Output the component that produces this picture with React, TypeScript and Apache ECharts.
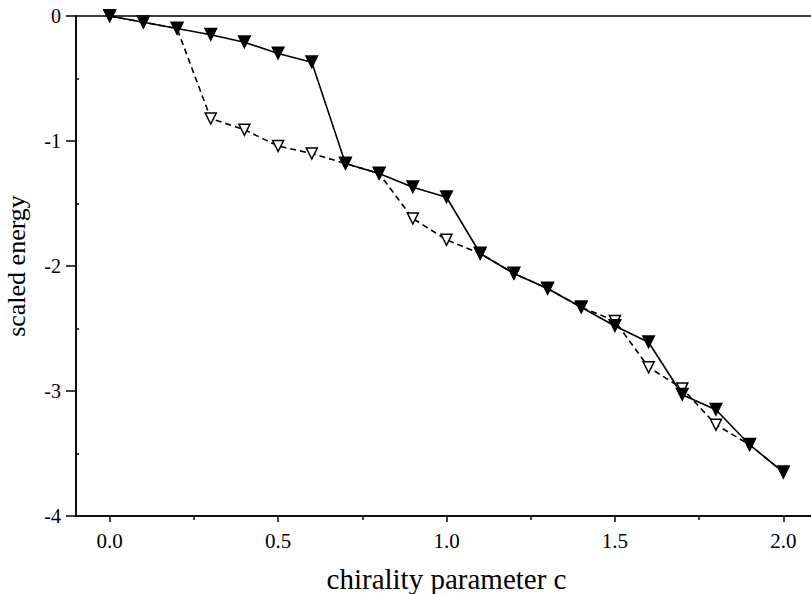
import React, { useEffect, useRef } from "react";
import * as echarts from "echarts";

const xValues = [0.0, 0.1, 0.2, 0.3, 0.4, 0.5, 0.6, 0.7, 0.8, 0.9, 1.0, 1.1, 1.2, 1.3, 1.4, 1.5, 1.6, 1.7, 1.8, 1.9, 2.0];
const solidEnergy = [0, -0.05, -0.1, -0.15, -0.21, -0.3, -0.37, -1.18, -1.26, -1.37, -1.45, -1.9, -2.06, -2.18, -2.33, -2.48, -2.61, -3.03, -3.15, -3.43, -3.65];
const dashedEnergy = [0, -0.05, -0.1, -0.82, -0.91, -1.04, -1.1, -1.18, -1.26, -1.62, -1.79, -1.9, -2.06, -2.18, -2.33, -2.44, -2.81, -2.98, -3.27, -3.43, -3.65];
const xMajorTicks = [0, 0.5, 1.0, 1.5, 2.0];
const xMinorTicks = [0.25, 0.75, 1.25, 1.75];
const yMinorTicks = [-3.5, -2.5, -1.5, -0.5];

const FONT = "Liberation Serif, Times New Roman, serif";

export default function App() {
  const ref = useRef<HTMLDivElement>(null);
  useEffect(() => {
    if (!ref.current) return;
    const chart = echarts.init(ref.current, undefined, { renderer: "svg" });
    const axisStyle = { color: "#000", width: 1.5 };
    chart.setOption({
      animation: false,
      backgroundColor: "#fff",
      textStyle: { fontFamily: FONT },
      grid: {
        left: 76,
        top: 16,
        right: -6,
        bottom: 78,
        containLabel: false,
        outerBoundsMode: "none",
        show: true,
        borderColor: "#000",
        borderWidth: 1.5,
        backgroundColor: "transparent",
      },
      xAxis: [
        {
          type: "value",
          min: -0.1,
          max: 2.1,
          position: "bottom",
          axisLine: { show: true, onZero: false, lineStyle: axisStyle },
          axisTick: { show: true, customValues: xMajorTicks, length: 6, lineStyle: axisStyle },
          axisLabel: {
            show: true,
            customValues: xMajorTicks,
            formatter: (v: number) => v.toFixed(1),
            fontFamily: FONT,
            fontSize: 21,
            color: "#000",
            margin: 14,
          },
          splitLine: { show: false },
          name: "chirality parameter c",
          nameLocation: "middle",
          nameGap: 48,
          nameTextStyle: { fontFamily: FONT, fontSize: 29, color: "#000" },
        },
        {
          type: "value",
          min: -0.1,
          max: 2.1,
          position: "bottom",
          axisLine: { show: false, onZero: false },
          axisTick: { show: true, customValues: xMinorTicks, length: 4, lineStyle: axisStyle },
          axisLabel: { show: false },
          splitLine: { show: false },
        },
      ],
      yAxis: [
        {
          type: "value",
          min: -4,
          max: 0,
          interval: 1,
          position: "left",
          axisLine: { show: true, onZero: false, lineStyle: axisStyle },
          axisTick: { show: true, length: 10, lineStyle: axisStyle },
          axisLabel: {
            fontFamily: FONT,
            fontSize: 20,
            color: "#000",
            margin: 15,
          },
          splitLine: { show: false },
          name: "scaled energy",
          nameLocation: "middle",
          nameGap: 47,
          nameTextStyle: { fontFamily: FONT, fontSize: 26, color: "#000" },
        },
        {
          type: "value",
          min: -4,
          max: 0,
          position: "left",
          axisLine: { show: false, onZero: false },
          axisTick: { show: true, inside: true, customValues: yMinorTicks, length: 3, lineStyle: axisStyle },
          axisLabel: { show: false },
          splitLine: { show: false },
        },
      ],
      series: [
        {
          type: "line",
          xAxisIndex: 0,
          yAxisIndex: 0,
          data: xValues.map((x, i) => [x, dashedEnergy[i]]),
          symbol: "triangle",
          symbolRotate: 180,
          symbolSize: 11,
          showAllSymbol: true,
          lineStyle: { color: "#000", width: 1.6, type: [6, 4] },
          itemStyle: { color: "#fff", borderColor: "#000", borderWidth: 1.5 },
          z: 2,
        },
        {
          type: "line",
          xAxisIndex: 0,
          yAxisIndex: 0,
          data: xValues.map((x, i) => [x, solidEnergy[i]]),
          symbol: "triangle",
          symbolRotate: 180,
          symbolSize: 14,
          showAllSymbol: true,
          lineStyle: { color: "#000", width: 1.6, type: "solid" },
          itemStyle: { color: "#000", borderColor: "#000", borderWidth: 0 },
          z: 3,
        },
      ],
    });
    return () => chart.dispose();
  }, []);
  return (
    <div
      ref={ref}
      style={{ position: "absolute", left: 0, top: 0, width: 811, height: 594 }}
    />
  );
}
